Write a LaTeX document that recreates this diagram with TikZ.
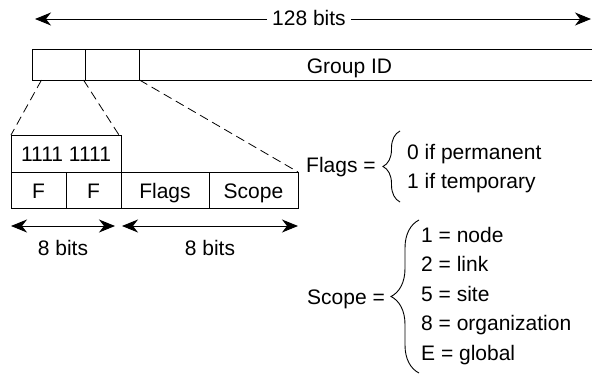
\documentclass[tikz,border=0pt]{standalone}
\usepackage{fontspec}
\setmainfont{Liberation Sans}
\usetikzlibrary{positioning}
\usetikzlibrary{calc}
\usetikzlibrary{arrows.meta}
\usetikzlibrary{decorations.pathreplacing}
\newdimen\ADDRrow
\ADDRrow=37pt

\begin{document}
\begin{tikzpicture}
    [
    x=1pt, y=-1pt,
    font=\fontsize{21}{25}\selectfont,
    >={Stealth[length=16pt, width=13pt, inset=5pt]},
    field/.style={draw, line width=0.9pt, inner sep=0pt, outer sep=0pt,
        text height=16pt, text depth=0pt, minimum height=\ADDRrow},
    guide/.style={dash pattern=on 9pt off 5pt, line width=0.8pt},
    span/.style={line width=1pt},
    curly/.style={decorate, decoration={brace, amplitude=#1}, line width=0.9pt},
    value/.style={anchor=base west, inner sep=0pt},
    ]

    \useasboundingbox (0,0) rectangle (592,375);

    \node[field, minimum width=53pt, minimum height=31pt, anchor=north west] (grp_a) at (32.5,49) {};
    \node[field, minimum width=54pt, minimum height=31pt, right=0pt of grp_a] (grp_b) {};
    \node[field, minimum width=470pt, minimum height=31pt, right=0pt of grp_b] (grp_id) {};
    \node[anchor=base] (grp_name) at ($(grp_b.east)+(210,8.5)$) {Group ID};

    \coordinate (tot_l) at (35,19);
    \coordinate (tot_r) at (591,19);
    \node[anchor=base, inner xsep=5pt] (tot) at (309,25) {128 bits};
    \draw[span, ->] (tot.west |- tot_l) -- (tot_l);
    \draw[span, ->] (tot.east |- tot_r) -- (tot_r);

    \node[field, minimum width=110pt, anchor=north west] (prefix) at (11,135) {1111 1111};
    \node[field, minimum width=55pt, minimum height=36pt, below right=0pt and 0pt of prefix.south west] (nib_a) {F};
    \node[field, minimum width=55pt, minimum height=36pt, right=0pt of nib_a] (nib_b) {F};
    \node[field, minimum width=88pt, minimum height=36pt, right=0pt of nib_b] (flags) {Flags};
    \node[field, minimum width=89pt, minimum height=36pt, right=0pt of flags] (scope) {Scope};

    \draw[guide] ([xshift=9pt]grp_a.south west) -- (prefix.north west);
    \draw[guide] ([xshift=-2pt]grp_a.south east) -- ([xshift=-2pt]prefix.north east);
    \draw[guide] (grp_b.south east) -- (scope.north east);

    \coordinate (len_a1) at ([yshift=-18pt]nib_a.south west);
    \coordinate (len_a2) at ([xshift=-6pt, yshift=-18pt]nib_b.south east);
    \coordinate (len_b1) at ([xshift=1pt, yshift=-18pt]flags.south west);
    \coordinate (len_b2) at ([yshift=-18pt]scope.south east);
    \draw[span, <->] (len_a1) -- (len_a2);
    \draw[span, <->] (len_b1) -- (len_b2);
    \node[anchor=base] (len_a) at ($(len_a1)!.5!(len_a2)+(0,29)$) {8 bits};
    \node[anchor=base] (len_b) at ($(len_b1)!.5!(len_b2)+(0,29)$) {8 bits};

    \node[value] (flags_def) at (306,172) {Flags =};
    \node[value] (flags_0) at (407,159) {0 if permanent};
    \node[value] (flags_1) at (407,188) {1 if temporary};
    \coordinate (flags_top) at (400,131);
    \coordinate (flags_bot) at (400,202);
    \draw[curly=17pt] (flags_bot) -- (flags_top);

    \node[value] (scope_def) at (307,304) {Scope =};
    \foreach \val/\name [count=\i from 0] in {1/node, 2/link, 5/site, 8/organization, E/global}
        \node[value] (scope_\val) at (421, 242+29.5*\i) {\val{} = \name};
    \coordinate (scope_top) at (419,220);
    \coordinate (scope_bot) at (419,373);
    \draw[curly=28pt] (scope_bot) -- (scope_top);
\end{tikzpicture}
\end{document}
